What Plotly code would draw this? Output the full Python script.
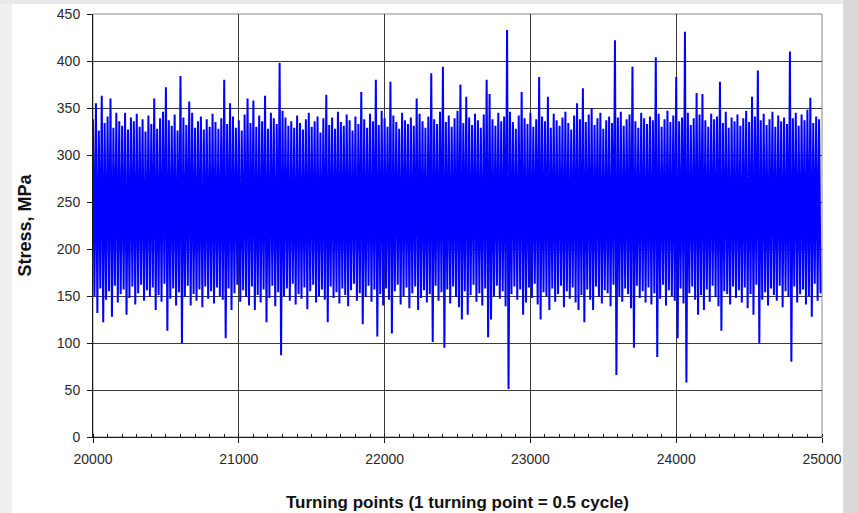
import plotly.graph_objects as go

peaks = [
    338, 355, 326, 363, 334, 341, 360, 329, 345, 336,
    331, 345, 327, 340, 336, 344, 330, 338, 325, 342,
    333, 360, 328, 339, 346, 372, 337, 331, 343, 326,
    384, 340, 332, 357, 345, 329, 336, 341, 327, 338,
    330, 344, 335, 328, 339, 380, 333, 355, 341, 329,
    337, 326, 343, 360, 334, 358, 330, 342, 336, 363,
    328, 345, 339, 333, 398, 347, 340, 331, 336, 329,
    342, 334, 327, 338, 345, 330, 336, 341, 324, 339,
    364, 332, 340, 328, 346, 335, 331, 343, 337, 326,
    341, 333, 367, 338, 329, 344, 336, 380, 332, 347,
    339, 330, 378, 342, 335, 328, 345, 337, 333, 340,
    331, 360, 344, 336, 329, 341, 387, 338, 333, 346,
    394, 335, 342, 330, 339, 347, 375, 334, 362, 340,
    332, 344, 337, 329, 343, 380, 365, 338, 331, 345,
    336, 341, 433, 346, 335, 328, 342, 367, 339, 333,
    345, 330, 338, 383, 341, 336, 362, 329, 344, 337,
    331, 340, 346, 334, 327, 342, 355, 338, 371, 335,
    343, 350, 332, 339, 345, 328, 337, 341, 334, 422,
    340, 346, 331, 338, 343, 394, 336, 329, 345, 339,
    333, 341, 337, 404, 344, 330, 338, 347, 335, 342,
    383, 336, 340, 431, 345, 332, 339, 366, 343, 365,
    337, 330, 344, 338, 341, 378, 334, 346, 329, 340,
    336, 343, 331, 339, 347, 335, 362, 341, 390, 337,
    344, 332, 338, 346, 330, 342, 336, 340, 333, 410,
    339, 345, 331, 343, 337, 348, 361, 334, 341, 338,
]
valleys = [
    150, 132, 158, 122, 146, 155, 128, 161, 143, 152,
    157, 130, 148, 160, 141, 153, 162, 145, 156, 149,
    159, 135, 151, 144, 163, 113, 147, 158, 140, 154,
    100, 149, 161, 140, 152, 145, 157, 138, 160, 147,
    155, 142, 159, 150, 146, 105, 158, 135, 153, 162,
    144, 156, 149, 140, 160, 135, 151, 143, 157, 122,
    148, 161, 139, 154, 87, 150, 158, 145, 163, 141,
    152, 147, 159, 136, 155, 162, 143, 150, 157, 146,
    122, 160, 148, 154, 142, 158, 151, 139, 156, 163,
    145, 153, 120, 149, 161, 144, 157, 107, 152, 140,
    158, 146, 110, 155, 162, 141, 150, 159, 137, 153,
    160, 135, 148, 156, 143, 152, 101, 161, 145, 154,
    95, 157, 142, 160, 149, 138, 125, 155, 130, 151,
    162, 144, 153, 140, 158, 106, 125, 150, 161, 147,
    155, 139, 51, 152, 160, 146, 157, 130, 143, 159,
    148, 163, 141, 125, 154, 150, 135, 158, 144, 152,
    161, 138, 155, 147, 159, 143, 135, 151, 122, 157,
    146, 135, 160, 149, 142, 156, 153, 139, 162, 66,
    150, 144, 158, 152, 137, 95, 161, 148, 155, 143,
    159, 141, 153, 85, 147, 162, 140, 156, 150, 145,
    105, 158, 142, 58, 153, 160, 146, 130, 151, 135,
    157, 144, 161, 149, 139, 113, 155, 152, 141, 160,
    148, 156, 143, 159, 137, 152, 130, 162, 100, 146,
    154, 140, 158, 151, 145, 161, 138, 155, 149, 80,
    160, 143, 152, 157, 141, 150, 128, 163, 145, 153,
]
x_start = 20000
x_end = 25000
x_ticks = [20000, 21000, 22000, 23000, 24000, 25000]
y_ticks = [0, 50, 100, 150, 200, 250, 300, 350, 400, 450]

stress = []
for p, v in zip(peaks, valleys):
    stress.append(p)
    stress.append(v)
step = (x_end - x_start) / len(stress)
turning = [x_start + i * step for i in range(len(stress))]

fig = go.Figure()
fig.add_trace(go.Scatter(
    x=turning, y=stress, mode="lines",
    line=dict(color="#0000FF", width=2.0, simplify=False),
    hoverinfo="skip", showlegend=False,
))

# Plot area (page pixels): x 93..822, y 14..437
L, T, PW, PH = 93, 14, 729, 423
def px(xp):
    return (xp - L) / PW
def py(yp):
    return 1 - (yp - T) / PH

# page background decoration (grey frame around the white chart)
fig.add_shape(type="rect", xref="paper", yref="paper",
              x0=px(843), x1=px(870), y0=py(530), y1=py(-10),
              fillcolor="#d9d9d9", line=dict(width=0), layer="below")
fig.add_shape(type="rect", xref="paper", yref="paper",
              x0=px(-10), x1=px(12), y0=py(530), y1=py(-10),
              fillcolor="#efefef", line=dict(width=0), layer="below")
fig.add_shape(type="rect", xref="paper", yref="paper",
              x0=px(-10), x1=px(843), y0=py(4), y1=py(-10),
              fillcolor="#e9e9e9", line=dict(width=0), layer="below")
# grey plot-area frame (top and right edges)
fig.add_shape(type="rect", xref="paper", yref="paper",
              x0=0, x1=1, y0=0, y1=1,
              line=dict(color="#8a8a8a", width=1), layer="below")

font_fam = "Liberation Sans, Arial, sans-serif"
fig.update_layout(
    width=857, height=513,
    margin=dict(l=93, r=35, t=14, b=76),
    paper_bgcolor="white", plot_bgcolor="white",
    font=dict(family=font_fam, size=14, color="#2a2a2a"),
    xaxis=dict(
        range=[x_start, x_end], tickvals=x_ticks,
        ticktext=[str(t) for t in x_ticks],
        showgrid=True, gridcolor="#3a3a3a", gridwidth=1,
        showline=True, linecolor="#1a1a1a", linewidth=1,
        ticks="outside", ticklen=5, tickcolor="#1a1a1a",
        minor=dict(dtick=100, ticks="inside", ticklen=3, tickcolor="#1a1a1a", showgrid=False),
        zeroline=False, automargin=False, ticklabelstandoff=4,
        ticklabeloverflow="allow",
        tickfont=dict(size=14, color="#2a2a2a"),
        title=dict(text="<b>Turning points (1 turning point = 0.5 cycle)</b>",
                   font=dict(size=17, color="#111111"), standoff=30),
    ),
    yaxis=dict(
        range=[0, 450], tickvals=y_ticks,
        showgrid=True, gridcolor="#3a3a3a", gridwidth=1,
        showline=True, linecolor="#1a1a1a", linewidth=1,
        ticks="outside", ticklen=5, tickcolor="#1a1a1a",
        zeroline=False, automargin=False, ticklabelstandoff=4,
        ticklabeloverflow="allow",
        tickfont=dict(size=14, color="#2a2a2a"),
        title=dict(text="<b>Stress, MPa</b>",
                   font=dict(size=18, color="#111111"), standoff=20),
    ),
)

fig.write_html(
    "out.html",
    config={"displayModeBar": False},
    post_script="document.body.style.margin='0';document.body.style.overflow='hidden';",
)
